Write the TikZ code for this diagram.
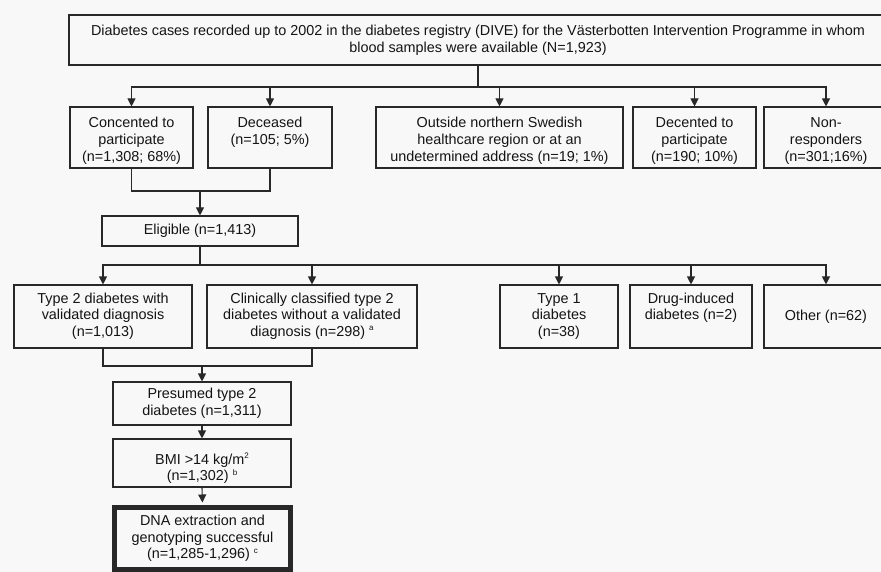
\documentclass[tikz,border=0pt]{standalone}
\usepackage{fontspec}
\setmainfont{Liberation Sans}
\usetikzlibrary{arrows.meta}
\definecolor{bg}{RGB}{248,248,248}
\definecolor{ln}{RGB}{40,40,40}
\definecolor{tx}{RGB}{20,20,20}
\newcommand{\bxt}[4]{\parbox[c][#2pt][t]{#1pt}{\centering\rule{0pt}{#3pt}#4}}
\newcommand{\bxc}[3]{\parbox[c][#2pt][c]{#1pt}{\centering #3}}
\newcommand{\sups}[1]{\raisebox{5.5pt}{\fontsize{8}{8}\selectfont #1}}
\tikzset{
  box/.style={draw=ln, line width=1.1pt, inner sep=0pt, fill=bg, text=tx,
    font=\fontsize{14.4}{16.7}\selectfont},
  conn/.style={draw=ln, line width=1.1pt},
  arr/.style={conn, -{Triangle[width=8pt,length=8pt]}}
}
\begin{document}
\begin{tikzpicture}[x=1pt,y=-1pt]
\fill[bg] (0,0) rectangle (881,572);
\useasboundingbox (0,0) rectangle (881,572);
% top
\node[box] (top) at (478,40) {\bxc{818}{50}{Diabetes cases recorded up to 2002 in the diabetes registry (DIVE) for the Västerbotten Intervention Programme in whom\\blood samples were available (N=1,923)}};
% row 1
\node[box] (A) at (131.5,137.5) {\bxt{123}{61}{20.7}{Concented to\\participate\\(n=1,308; 68\%)}};
\node[box] (B) at (270,137.5) {\bxt{124}{61}{20.7}{Deceased\\(n=105; 5\%)}};
\node[box] (C) at (499.5,137.5) {\bxt{247}{61}{20.7}{Outside northern Swedish\\healthcare region or at an\\undetermined address (n=19; 1\%)}};
\node[box] (D) at (694.5,137.5) {\bxt{123}{61}{20.7}{Decented to\\participate\\(n=190; 10\%)}};
\node[box] (E) at (826,137.5) {\bxt{124}{61}{20.7}{Non-\\responders\\(n=301;16\%)}};
% eligible
\node[box] (Elig) at (200,231) {\bxc{196}{30}{Eligible (n=1,413)}};
% row 2
\node[box] (F) at (103,316.5) {\bxt{178}{63}{18}{Type 2 diabetes with\\validated diagnosis\\(n=1,013)}};
\node[box] (G) at (312,316.5) {\bxt{210}{63}{18}{Clinically classified type 2\\diabetes without a validated\\diagnosis (n=298) \sups{a}}};
\node[box] (H) at (559,316.5) {\bxt{118}{63}{18}{Type 1\\diabetes\\(n=38)}};
\node[box] (I) at (691,316.5) {\bxt{122}{63}{18}{Drug-induced\\diabetes (n=2)}};
\node[box] (J) at (826,316.5) {\bxc{124}{63}{Other (n=62)}};
% lower chain
\node[box] (Pres) at (202,403.5) {\bxc{178}{43}{Presumed type 2\\diabetes (n=1,311)}};
\node[box] (BMI) at (202,463) {\bxt{178}{48}{25}{BMI {>}14 kg/m\sups{2}\\(n=1,302) \sups{b}}};
\node[box, line width=5pt] (DNA) at (202.5,538.5) {\bxc{176}{62}{DNA extraction and\\genotyping successful\\(n=1,285-1,296) \sups{c}}};
% connectors top
\coordinate (b1) at (478,87);
\draw[conn] (top.south) -- (b1);
\foreach \n in {A,B,C,D,E} \draw[arr] (b1) -| (\n.north);
% join to eligible
\coordinate (j1) at (200,191);
\draw[conn] (A.south) |- (j1) -| (B.south);
\draw[arr] (j1) -- (Elig.north);
% eligible to row 2
\coordinate (b2) at (200,265);
\draw[conn] (Elig.south) -- (b2);
\foreach \n in {F,G,H,I,J} \draw[arr] (b2) -| (\n.north);
% join to presumed
\coordinate (j2) at (202,366);
\draw[conn] (F.south) |- (j2) -| (G.south);
\draw[arr] (j2) -- (Pres.north);
\draw[arr] (Pres.south) -- (BMI.north);
\draw[arr, shorten >=2.5pt] (BMI.south) -- (DNA.north);
\end{tikzpicture}
\end{document}
